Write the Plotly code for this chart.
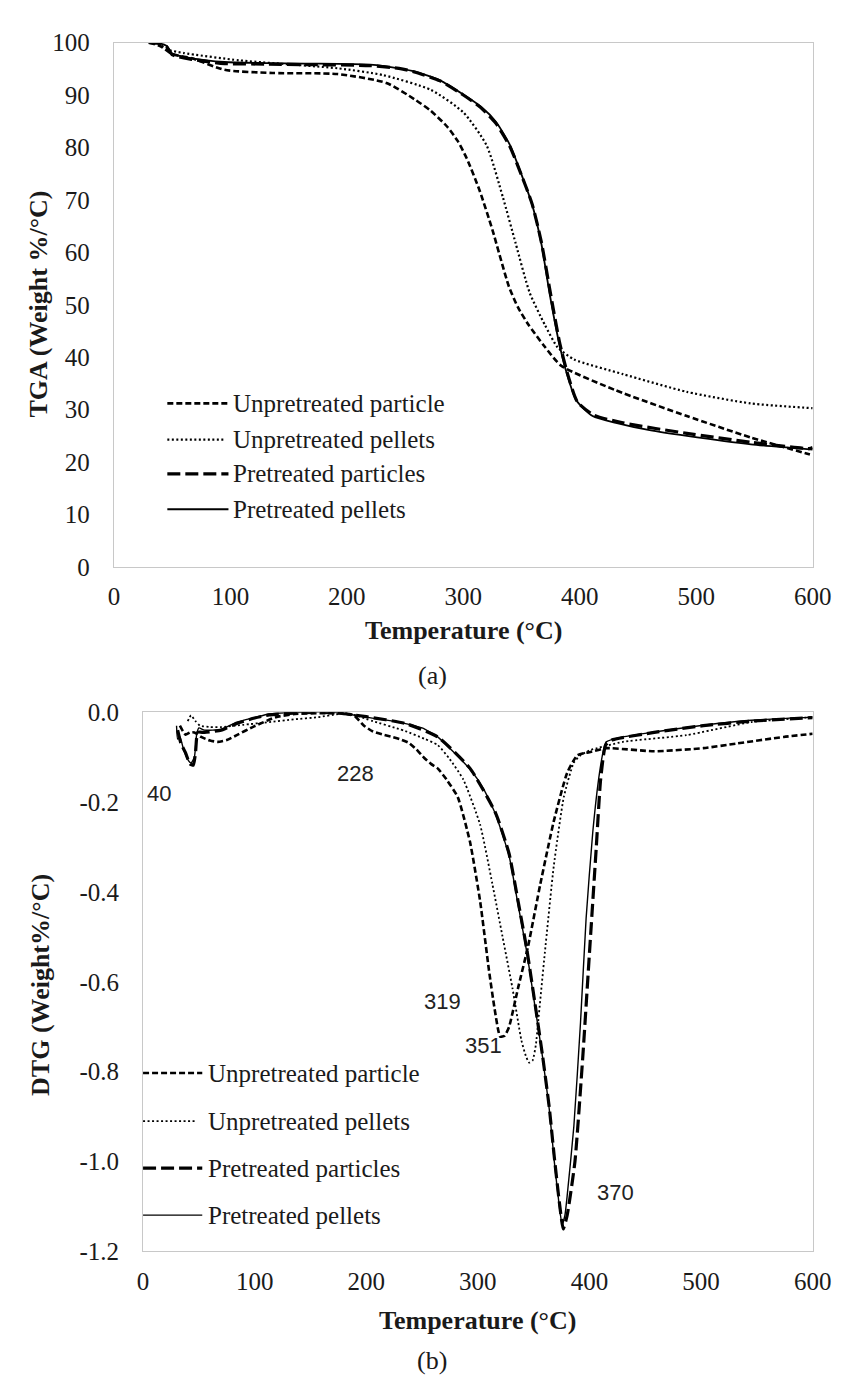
import plotly.graph_objects as go

# ---------------- TGA data (a) ----------------
tga_up_particle_T = [30, 40, 50, 67, 95, 136, 192, 234, 258, 272, 286, 295, 303, 314, 325, 339, 347, 356, 370, 384, 431, 492, 547, 597, 600]
tga_up_particle_W = [100, 99.3, 97.8, 97.0, 94.8, 94.2, 94.0, 92.3, 89.2, 87.0, 84.0, 81.3, 77.9, 71.8, 64.3, 53.6, 49.5, 46.2, 42.0, 38.4, 33.7, 28.8, 24.7, 21.5, 21.3]

tga_up_pellets_T = [30, 40, 47, 60, 108, 192, 231, 272, 300, 320, 334, 345, 357, 370, 381, 395, 437, 492, 547, 600]
tga_up_pellets_W = [100, 99.5, 98.6, 98.0, 96.6, 95.1, 93.8, 91.0, 86.7, 80.4, 70.5, 61.7, 52.3, 46.2, 41.9, 39.6, 36.8, 33.4, 31.2, 30.3]

tga_pre_particles_T = [30, 40, 45, 50, 67, 95, 130, 164, 220, 247, 258, 280, 300, 315, 328, 340, 347, 359, 367, 375, 383, 390, 398, 412, 437, 492, 547, 597, 600]
tga_pre_particles_W = [100, 99.8, 99.3, 97.7, 96.8, 96.0, 95.9, 95.8, 95.6, 95.0, 94.4, 92.7, 90.0, 87.6, 84.6, 80.2, 76.4, 69.3, 62.0, 52.0, 42.5, 36.5, 31.5, 29.0, 27.5, 25.5, 23.8, 22.6, 22.8]

tga_pre_pellets_T = [30, 40, 45, 50, 67, 95, 130, 164, 220, 247, 258, 280, 300, 315, 328, 340, 347, 359, 367, 374, 382, 389, 397, 411, 431, 460, 492, 547, 600]
tga_pre_pellets_W = [100, 99.8, 99.4, 97.9, 97.0, 96.3, 96.1, 96.0, 95.8, 95.0, 94.5, 92.8, 90.1, 87.8, 84.9, 80.5, 76.6, 69.2, 61.7, 52.3, 43.0, 36.8, 31.8, 28.8, 27.5, 26.1, 25.0, 23.4, 22.4]

# ---------------- DTG data (b) ----------------
dtg_up_particle_T = [33, 38, 42, 46, 52, 60, 67, 75, 84, 99, 119, 136, 160, 180, 189, 198, 206, 215, 223, 230, 238, 245, 252, 258, 264, 272, 282, 293, 302, 310, 315, 320, 324, 328, 336, 345, 356, 368, 380, 389, 395, 400, 415, 458, 502, 531, 574, 600]
dtg_up_particle_D = [-0.03, -0.05, -0.045, -0.045, -0.055, -0.063, -0.066, -0.062, -0.051, -0.032, -0.011, -0.004, -0.002, -0.003, -0.007, -0.03, -0.043, -0.05, -0.055, -0.06, -0.068, -0.083, -0.102, -0.115, -0.125, -0.15, -0.189, -0.289, -0.42, -0.575, -0.66, -0.722, -0.72, -0.70, -0.614, -0.521, -0.382, -0.243, -0.135, -0.096, -0.091, -0.089, -0.08, -0.087, -0.08, -0.07, -0.055, -0.048]

dtg_up_pellets_T = [40, 43, 47, 51, 60, 70, 90, 113, 135, 157, 175, 183, 192, 200, 206, 229, 235, 252, 264, 275, 287, 302, 313, 322, 331, 339, 343, 346, 349, 352, 354, 360, 368, 377, 386, 392, 400, 430, 487, 545, 600]
dtg_up_pellets_D = [-0.02, -0.007, -0.02, -0.03, -0.033, -0.033, -0.028, -0.022, -0.016, -0.011, -0.004, -0.002, -0.008, -0.015, -0.02, -0.037, -0.042, -0.059, -0.073, -0.105, -0.15, -0.25, -0.382, -0.498, -0.614, -0.73, -0.765, -0.78, -0.775, -0.74, -0.69, -0.536, -0.343, -0.189, -0.112, -0.096, -0.085, -0.066, -0.051, -0.022, -0.011]

dtg_pre_particles_T = [31, 34, 38, 42, 45, 47, 49, 55, 70, 84, 100, 113, 142, 171, 200, 235, 264, 293, 316, 328, 336, 344, 351, 358, 364, 368.5, 373, 376.5, 380, 387, 394, 400, 406, 410, 414.5, 420, 458, 502, 545, 600]
dtg_pre_particles_D = [-0.04, -0.07, -0.09, -0.115, -0.118, -0.09, -0.045, -0.045, -0.04, -0.025, -0.013, -0.006, -0.001, -0.001, -0.01, -0.025, -0.055, -0.125, -0.225, -0.315, -0.42, -0.53, -0.645, -0.765, -0.88, -0.99, -1.09, -1.15, -1.12, -1.0, -0.768, -0.536, -0.305, -0.15, -0.073, -0.062, -0.045, -0.03, -0.02, -0.012]

dtg_pre_pellets_T = [30, 31, 33, 36, 40, 43, 46, 48, 50, 55, 70, 84, 100, 113, 142, 171, 186, 200, 229, 250, 264, 293, 305, 316, 328, 336, 344, 351, 358, 364, 368.5, 373, 375.5, 378, 380, 386, 392, 397, 403, 409, 413, 415, 430, 458, 502, 545, 600]
dtg_pre_pellets_D = [-0.03, -0.06, -0.055, -0.08, -0.105, -0.113, -0.10, -0.05, -0.035, -0.04, -0.038, -0.022, -0.012, -0.004, 0.0, 0.0, -0.005, -0.011, -0.022, -0.035, -0.055, -0.127, -0.17, -0.228, -0.32, -0.428, -0.536, -0.652, -0.768, -0.884, -1.0, -1.10, -1.14, -1.12, -1.077, -0.922, -0.69, -0.459, -0.266, -0.135, -0.08, -0.066, -0.055, -0.044, -0.029, -0.018, -0.011]

series_names = ["Unpretreated particle", "Unpretreated pellets", "Pretreated particles", "Pretreated pellets"]
x_ticks = [0, 100, 200, 300, 400, 500, 600]
tga_ticks = [0, 10, 20, 30, 40, 50, 60, 70, 80, 90, 100]
dtg_ticks = [0.0, -0.2, -0.4, -0.6, -0.8, -1.0, -1.2]
dtg_tick_text = ["0.0", "-0.2", "-0.4", "-0.6", "-0.8", "-1.0", "-1.2"]
peak_labels = ["40", "228", "319", "351", "370"]
peak_label_T = [14, 190, 268, 305, 423]
peak_label_D = [-0.181, -0.137, -0.644, -0.742, -1.069]

# ---------------- styling ----------------
W, H = 845, 1380
styles_tga = [dict(width=2.6, dash="6px,3px"), dict(width=2.2, dash="2px,2.5px"),
              dict(width=3.2, dash="13px,5px"), dict(width=1.8, dash="solid")]
styles_dtg = [dict(width=2.6, dash="6px,3px"), dict(width=1.8, dash="2px,2.5px"),
              dict(width=3.2, dash="13px,5px"), dict(width=1.4, dash="solid")]
serif = "Liberation Serif, Times New Roman, serif"
sans = "Liberation Sans, Arial, sans-serif"
ink = "#1a1a1a"

def px(x):
    return x / W

def py(y):
    return 1 - y / H

fig = go.Figure()

tga = [(tga_up_particle_T, tga_up_particle_W), (tga_up_pellets_T, tga_up_pellets_W),
       (tga_pre_particles_T, tga_pre_particles_W), (tga_pre_pellets_T, tga_pre_pellets_W)]
dtg = [(dtg_up_particle_T, dtg_up_particle_D), (dtg_up_pellets_T, dtg_up_pellets_D),
       (dtg_pre_particles_T, dtg_pre_particles_D), (dtg_pre_pellets_T, dtg_pre_pellets_D)]

for name, (t, w), st in zip(series_names, tga, styles_tga):
    fig.add_trace(go.Scatter(x=t, y=w, mode="lines", name=name, showlegend=False,
                             line=dict(color="black", shape="spline", smoothing=0.6, **st),
                             xaxis="x", yaxis="y"))
for name, (t, d), st in zip(series_names, dtg, styles_dtg):
    fig.add_trace(go.Scatter(x=t, y=d, mode="lines", name=name, showlegend=False,
                             line=dict(color="black", shape="spline", smoothing=0.5, **st),
                             xaxis="x2", yaxis="y2"))

axis_common = dict(showgrid=False, zeroline=False, showline=True, mirror=True,
                   linecolor="#c8c8c8", linewidth=1.2, ticks="",
                   tickfont=dict(family=serif, size=25, color=ink))

fig.update_layout(
    width=W, height=H, margin=dict(l=0, r=0, t=0, b=0),
    paper_bgcolor="white", plot_bgcolor="white", showlegend=False,
    xaxis=dict(domain=[px(103), px(823)], range=[0, 600], tickvals=x_ticks,
               anchor="y", ticklabelstandoff=7, **axis_common),
    yaxis=dict(domain=[py(557), py(22)], range=[0, 100], tickvals=tga_ticks,
               anchor="x", ticklabelstandoff=18, **axis_common),
    xaxis2=dict(domain=[px(133), px(823)], range=[0, 600], tickvals=x_ticks,
                anchor="y2", ticklabelstandoff=7, **axis_common),
    yaxis2=dict(domain=[py(1255), py(705)], range=[-1.2, 0], tickvals=dtg_ticks,
                ticktext=dtg_tick_text, anchor="x2", ticklabelstandoff=18, **axis_common),
)

def paper_text(text, x, y, size, angle=0, xanchor="center"):
    return dict(text=text, x=px(x), y=py(y), xref="paper", yref="paper",
                xanchor=xanchor, yanchor="middle", showarrow=False, textangle=angle,
                font=dict(family=serif, size=size, color=ink))

ann = []
# axis titles and captions
ann.append(paper_text("<b>Temperature (°C)</b>", 463, 622, 26))
ann.append(paper_text("(a)", 431, 668, 26))
ann.append(paper_text("<b>TGA (Weight %/°C)</b>", 25, 289, 26, angle=-90))
ann.append(paper_text("<b>Temperature (°C)</b>", 478, 1325, 26))
ann.append(paper_text("(b)", 431, 1366, 26))
ann.append(paper_text("<b>DTG (Weight%/°C)</b>", 28, 983, 26, angle=-90))

# peak annotations on DTG
for lab, t, d in zip(peak_labels, peak_label_T, peak_label_D):
    ann.append(dict(text=lab, x=t, y=d, xref="x2", yref="y2", showarrow=False,
                    xanchor="center", yanchor="middle",
                    font=dict(family=sans, size=22, color="#222")))

# manual legends (line samples + real text)
shapes = []
leg_top_y = [390, 427, 462, 498]
leg_bot_y = [1073, 1122, 1170, 1218]
for name, st, yy in zip(series_names, styles_tga, leg_top_y):
    x1 = 216 if name == "Unpretreated pellets" else 221
    shapes.append(dict(type="line", xref="paper", yref="paper", x0=px(158), x1=px(x1),
                       y0=py(yy), y1=py(yy), line=dict(color="black", width=st["width"], dash=st["dash"])))
    ann.append(paper_text(name, 224, yy, 25, xanchor="left"))
for name, st, yy in zip(series_names, styles_dtg, leg_bot_y):
    x1 = 188 if name == "Unpretreated pellets" else 194
    shapes.append(dict(type="line", xref="paper", yref="paper", x0=px(133), x1=px(x1),
                       y0=py(yy), y1=py(yy), line=dict(color="black", width=st["width"], dash=st["dash"])))
    ann.append(paper_text(name, 198, yy, 25, xanchor="left"))

fig.update_layout(annotations=ann, shapes=shapes)
fig.write_html("out.html")
